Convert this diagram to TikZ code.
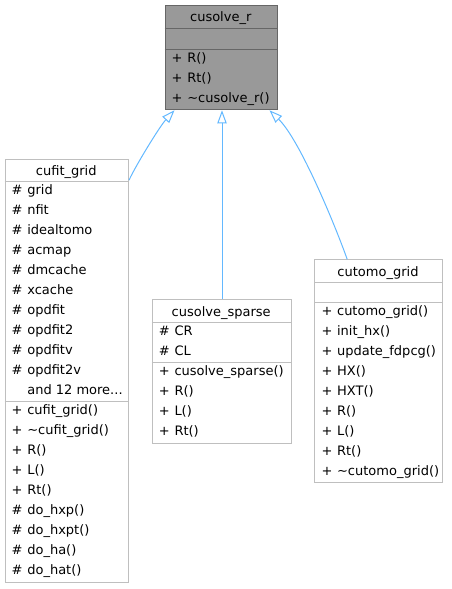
\documentclass[tikz,border=0pt]{standalone}
\usepackage{fontspec}
\setmainfont{DejaVu Sans}
\usetikzlibrary{arrows.meta}
\definecolor{edgeblue}{HTML}{63B8FF}
\definecolor{boxline}{HTML}{BFBFBF}
\definecolor{darkline}{HTML}{666666}
\definecolor{focusfill}{HTML}{999999}
\newcommand\umlrow[2]{\makebox[15.6pt][l]{#1}#2}
\begin{document}
\begin{tikzpicture}[x=1pt,y=-1pt,
  every node/.style={font=\fontsize{13pt}{16pt}\selectfont, text=black},
  box/.style={draw=boxline, fill=white, line width=1pt, rectangle, inner sep=0pt, anchor=north west},
  focusbox/.style={draw=darkline, fill=focusfill, line width=1pt, rectangle, inner sep=0pt, anchor=north west},
  sepw/.style={draw=boxline, line width=1pt},
  sepd/.style={draw=darkline, line width=1pt},
  row/.style={anchor=base west, inner sep=0pt},
  ttl/.style={anchor=base, inner sep=0pt},
  edge/.style={draw=edgeblue, line width=1pt, -{Triangle[open, length=13pt, width=9.3pt]}}
]
\useasboundingbox (0,0) rectangle (451,589);

% ---------- cusolve_r ----------
\node[focusbox, minimum width=112.5pt, minimum height=104.6pt] (cusolve) at (164.5,4.7) {};
\draw[sepd] (164.5,28) -- (277,28);
\draw[sepd] (164.5,49) -- (277,49);
\node[ttl] (cusolvet) at (220.75,21.7) {cusolve\_r};
\foreach \m/\t [count=\i] in {+/R(), +/Rt(), +/\textasciitilde cusolve\_r()}
  \node[row] (crm\i) at (171.5, 42+20*\i) {\umlrow{\m}{\t}};

% ---------- cufit_grid ----------
\node[box, minimum width=123.5pt, minimum height=423.5pt] (cufit) at (4.5,158.5) {};
\draw[sepw] (4.5,181.7) -- (128,181.7);
\draw[sepw] (4.5,401.7) -- (128,401.7);
\node[ttl] (cufitt) at (66.25,175.5) {cufit\_grid};
\foreach \t [count=\i] in {grid,nfit,idealtomo,acmap,dmcache,xcache,opdfit,opdfit2,opdfitv,opdfit2v}
  \node[row] (cfa\i) at (11.5, 174.7+20*\i) {\umlrow{\#}{\t}};
\node[row] (cfmore) at (27.1, 394.7) {and 12 more...};
\foreach \m/\t [count=\i] in {+/cufit\_grid(), +/\textasciitilde cufit\_grid(), +/R(), +/L(), +/Rt(), \#/do\_hxp(), \#/do\_hxpt(), \#/do\_ha(), \#/do\_hat()}
  \node[row] (cfm\i) at (11.5, 394.7+20*\i) {\umlrow{\m}{\t}};

% ---------- cusolve_sparse ----------
\node[box, minimum width=139pt, minimum height=143.5pt] (sparse) at (151.7,299) {};
\draw[sepw] (151.7,322.3) -- (290.7,322.3);
\draw[sepw] (151.7,362.3) -- (290.7,362.3);
\node[ttl] (sparset) at (221.2,316) {cusolve\_sparse};
\foreach \t [count=\i] in {CR,CL}
  \node[row] (spa\i) at (158.7, 315.3+20*\i) {\umlrow{\#}{\t}};
\foreach \m/\t [count=\i] in {+/cusolve\_sparse(), +/R(), +/L(), +/Rt()}
  \node[row] (spm\i) at (158.7, 355.3+20*\i) {\umlrow{\m}{\t}};

% ---------- cutomo_grid ----------
\node[box, minimum width=127.4pt, minimum height=222.7pt] (cutomo) at (314.3,259.3) {};
\draw[sepw] (314.3,282) -- (441.7,282);
\draw[sepw] (314.3,302) -- (441.7,302);
\node[ttl] (cutomot) at (378,276.3) {cutomo\_grid};
\foreach \m/\t [count=\i] in {+/cutomo\_grid(), +/init\_hx(), +/update\_fdpcg(), +/HX(), +/HXT(), +/R(), +/L(), +/Rt(), +/\textasciitilde cutomo\_grid()}
  \node[row] (ctm\i) at (321.3, 295+20*\i) {\umlrow{\m}{\t}};

% ---------- inheritance edges ----------
\draw[edge] ([yshift=-21.7pt]cufit.north east) .. controls (136,165) and (160,126) .. ([xshift=-46.75pt]cusolve.south);
\draw[edge] ([xshift=0.3pt]sparse.north) -- ([xshift=0.3pt]sparse.north |- cusolve.south);
\draw[edge] ([xshift=-31.3pt]cutomo.north) .. controls (335,225) and (300,140) .. ([xshift=48.25pt]cusolve.south);
\end{tikzpicture}
\end{document}
